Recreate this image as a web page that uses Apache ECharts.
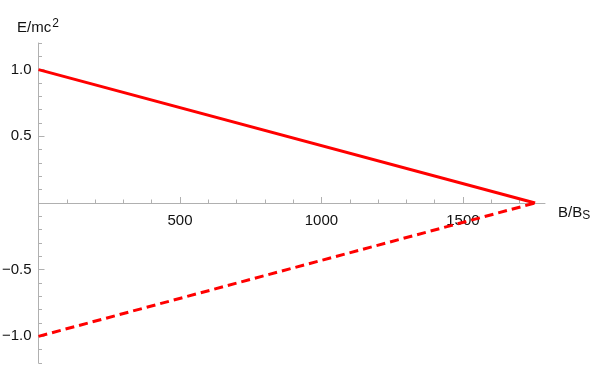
<!DOCTYPE html>
<html><head><meta charset="utf-8">
<script src="https://cdn.jsdelivr.net/npm/echarts@6/dist/echarts.min.js"></script>
<style>html,body{margin:0;padding:0;background:#fff}#c{width:598px;height:366px}</style>
</head><body><div id="c"></div>
<script>
const upperX = [0, 1755];
const upperY = [1, 0];
const lowerX = [0, 1755];
const lowerY = [-1, 0];
const xMajorTicks = [500, 1000, 1500];
const xMinorTicks = [100,200,300,400,600,700,800,900,1100,1200,1300,1400,1600,1700];
const yUpperMajor = [0.5, 1];
const yUpperMinor = [0.1,0.2,0.3,0.4,0.6,0.7,0.8,0.9,1.1,1.2];
const yLowerMajor = [-1, -0.5];
const yLowerMinor = [-1.2,-1.1,-0.9,-0.8,-0.7,-0.6,-0.4,-0.3,-0.2,-0.1];
const xMin = 0, xMax = 1790, yMax = 1.2;

const axisColor = '#b0b0b0';
const chart = echarts.init(document.getElementById('c'), null, {renderer:'canvas'});
const FF = 'Liberation Sans, Arial, sans-serif';
const lab = {color:'#111', fontSize:15, fontFamily:FF};
const yFmt = v => v.toFixed(1).replace('-', '\u2212');
function yMajor(grid, min, max, vals){
  return {type:'value', gridIndex:grid, min:min, max:max, position:'left',
    axisLine:{onZero:false, lineStyle:{color:axisColor, width:1}},
    axisTick:{inside:true, length:6, customValues:vals, lineStyle:{color:axisColor}},
    axisLabel:Object.assign({customValues:vals, margin:7, formatter:yFmt}, lab),
    splitLine:{show:false}};
}
function yMinor(grid, min, max, vals){
  return {type:'value', gridIndex:grid, min:min, max:max, position:'left',
    axisLine:{show:false, onZero:false},
    axisTick:{inside:true, length:3.5, customValues:vals, lineStyle:{color:axisColor}},
    axisLabel:{show:false}, splitLine:{show:false}};
}
chart.setOption({
  animation:false,
  grid:[
    {left:38.5, right:53, top:43, height:160, containLabel:false, outerBoundsMode:'none'},
    {left:38.5, right:53, top:203, height:160, containLabel:false, outerBoundsMode:'none'}
  ],
  xAxis:[{
    type:'value', gridIndex:0, min:xMin, max:xMax, position:'bottom',
    axisLine:{onZero:false, lineStyle:{color:axisColor, width:1}},
    axisTick:{inside:true, length:6, customValues:xMajorTicks, lineStyle:{color:axisColor}},
    axisLabel:Object.assign({customValues:xMajorTicks, margin:10, formatter:v=>String(v)}, lab),
    splitLine:{show:false}, z:1
  },{
    type:'value', gridIndex:0, min:xMin, max:xMax, position:'bottom',
    axisLine:{show:false, onZero:false},
    axisTick:{inside:true, length:3.5, customValues:xMinorTicks, lineStyle:{color:axisColor}},
    axisLabel:{show:false}, splitLine:{show:false}
  },{
    type:'value', gridIndex:1, min:xMin, max:xMax, show:false
  }],
  yAxis:[
    yMajor(0, 0, yMax, yUpperMajor), yMinor(0, 0, yMax, yUpperMinor),
    yMajor(1, -yMax, 0, yLowerMajor), yMinor(1, -yMax, 0, yLowerMinor)
  ],
  graphic:[
    {type:'text', left:17, top:18, style:{rich:{a:{fontSize:15,fontFamily:FF,fill:'#111'},s:{fontSize:12,fontFamily:FF,fill:'#111',verticalAlign:'top',padding:[0,0,8,1]}}, text:'{a|E/mc}{s|2}'}},
    {type:'text', left:558, top:205, style:{rich:{a:{fontSize:15,fontFamily:FF,fill:'#111'},s:{fontSize:12,fontFamily:FF,fill:'#111',padding:[6,0,0,0]}}, text:'{a|B/B}{s|S}'}}
  ],
  series:[
    {type:'line', xAxisIndex:0, yAxisIndex:0, clip:false, data:upperX.map((x,i)=>[x,upperY[i]]), symbol:'none', lineStyle:{color:'#ff0000', width:3}, z:3},
    {type:'line', xAxisIndex:2, yAxisIndex:2, clip:false, data:lowerX.map((x,i)=>[x,lowerY[i]]), symbol:'none', lineStyle:{color:'#ff0000', width:3, type:[9,5]}, z:3}
  ]
});
</script></body></html>
